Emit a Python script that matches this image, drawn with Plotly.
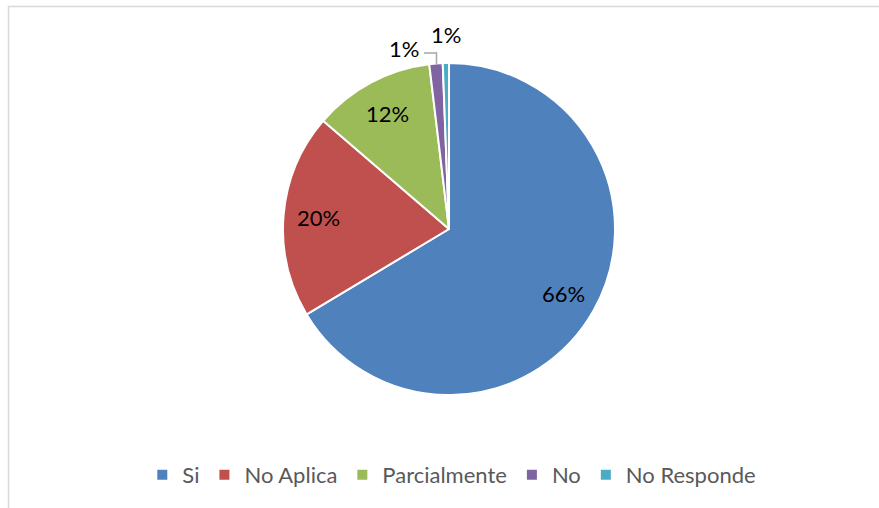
import math
import plotly.graph_objects as go

categories = ["Si", "No Aplica", "Parcialmente", "No", "No Responde"]
values = [66.4, 19.9, 11.8, 1.3, 0.6]
colors = ["#4F81BD", "#C0504D", "#9BBB59", "#8064A2", "#4BACC6"]

W, H = 879, 508
cx, cy, r = 449, 229, 166
FONT = "Lato, 'Open Sans', sans-serif"

fig = go.Figure(go.Pie(
    labels=categories,
    values=values,
    sort=False,
    direction="clockwise",
    rotation=0,
    marker=dict(colors=colors, line=dict(color="white", width=2)),
    textinfo="none",
    domain=dict(x=[(cx - r) / W, (cx + r) / W], y=[1 - (cy + r) / H, 1 - (cy - r) / H]),
))

total = sum(values)

# data labels for the big slices: placed on the mid-angle of each slice
start = 0.0
for i, v in enumerate(values):
    frac = v / total
    mid = (start + frac / 2) * 2 * math.pi
    start += frac
    if i > 2:
        continue
    px = cx + 0.79 * r * math.sin(mid)
    py = cy - 0.79 * r * math.cos(mid)
    fig.add_annotation(
        x=px / W, y=1 - py / H, xref="paper", yref="paper",
        xanchor="center", yanchor="middle",
        text=f"{frac:.0%}", showarrow=False,
        font=dict(size=22, color="#000000"),
    )

# labels for the two thin slices, set above the pie like the original
small = [(3, 404, 48), (4, 446, 35)]
for i, px, py in small:
    fig.add_annotation(
        x=px / W, y=1 - py / H, xref="paper", yref="paper",
        xanchor="center", yanchor="middle",
        text=f"{values[i] / total:.0%}", showarrow=False,
        font=dict(size=22, color="#000000"),
    )

fig.update_layout(
    width=W, height=H,
    margin=dict(l=0, r=0, t=0, b=0),
    paper_bgcolor="white",
    font=dict(family=FONT, size=22, color="#595959"),
    showlegend=True,
    legend=dict(
        orientation="h",
        x=0.514, xanchor="center",
        y=1 - 475 / H, yanchor="middle",
        font=dict(size=22, color="#595959"),
        itemwidth=30,
    ),
    shapes=[
        dict(type="rect", xref="paper", yref="paper",
             x0=8.5 / W, x1=1.05, y0=-0.05, y1=1 - 6.5 / H,
             line=dict(color="#D9D9D9", width=1.5)),
        # leader line for the "No" label
        dict(type="path", xref="paper", yref="paper",
             path=f"M {424 / W},{1 - 53 / H} L {436.5 / W},{1 - 53 / H} L {436.5 / W},{1 - 64 / H}",
             line=dict(color="#A6A6A6", width=1.5)),
    ],
)

fig.write_html(
    "out.html",
    config={"displayModeBar": False},
    post_script="document.body.style.margin='0';",
)
